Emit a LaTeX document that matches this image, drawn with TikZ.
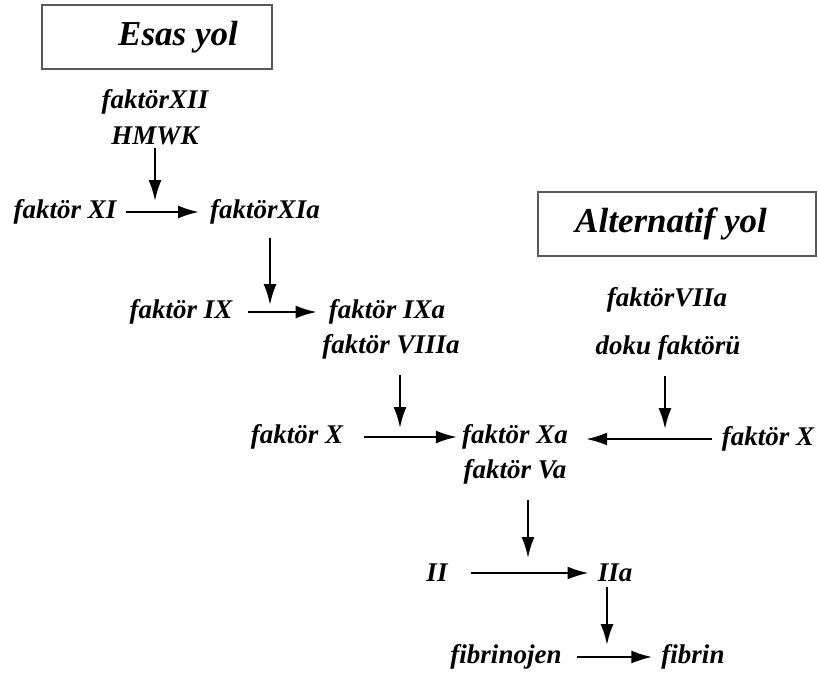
\documentclass[tikz,border=0pt]{standalone}
\usepackage{fontspec}
\setmainfont{Liberation Serif}
\usetikzlibrary{arrows.meta}
\begin{document}
\begin{tikzpicture}[x=1pt,y=-1pt,
  lbl/.style={font=\bfseries\itshape\fontsize{27}{31}\selectfont, inner sep=1pt},
  title/.style={font=\bfseries\itshape\fontsize{35}{40}\selectfont, draw=black!65, line width=1.3pt, inner sep=0pt},
  ar/.style={-{Latex[length=21pt,width=13pt]}, line width=2.2pt}]
\useasboundingbox (0,0) rectangle (819,675);
% titles
\node[title, minimum width=230pt, minimum height=64pt] (esas) at (157,37) {\hspace*{42pt}Esas yol};
\node[title, minimum width=278pt, minimum height=64pt] (alt) at (677,224) {Alternatif yol\hspace*{12pt}};
% labels
\node[lbl] (xii) at (155,102) {faktörXII};
\node[lbl] (hmwk) at (155,136) {HMWK};
\node[lbl] (xi) at (65,212) {faktör XI};
\node[lbl] (xia) at (265,212) {faktörXIa};
\node[lbl] (ix) at (181,312) {faktör IX};
\node[lbl] (ixa) at (387,312) {faktör IXa};
\node[lbl] (viiia) at (391,347) {faktör VIIIa};
\node[lbl] (x1) at (297,437) {faktör X};
\node[lbl] (xa) at (515,437) {faktör Xa};
\node[lbl] (va) at (515,472) {faktör Va};
\node[lbl] (viia) at (667,300) {faktörVIIa};
\node[lbl] (doku) at (668,348) {doku faktörü};
\node[lbl] (x2) at (768,439) {faktör X};
\node[lbl] (ii) at (437,573) {II};
\node[lbl] (iia) at (615,573) {IIa};
\node[lbl] (fbj) at (506,657) {fibrinojen};
\node[lbl] (fb) at (693,657) {fibrin};
% meeting points of the down arrows
\coordinate (m1) at (155,201);
\coordinate (m2) at (270,305);
\coordinate (m3) at (400,428);
\coordinate (m4) at (665,429);
\coordinate (m5) at (528,558);
\coordinate (m6) at (607,645);
% horizontal arrows
\draw[ar, shorten <=8pt, shorten >=10pt] (xi.east) -- (xia.west);
\draw[ar, shorten <=14pt, shorten >=11pt] (ix.east) -- (ix.east -| ixa.west);
\draw[ar, shorten <=20pt, shorten >=4pt] (x1.east) -- (x1.east -| xa.west);
\draw[ar, shorten <=9pt, shorten >=17pt] (x2.west) -- (x2.west -| xa.east);
\draw[ar, shorten <=22pt, shorten >=8pt] (ii.east) -- (iia.west);
\draw[ar, shorten <=14pt, shorten >=8pt] (fbj.east) -- (fb.west);
% vertical arrows
\draw[ar, shorten <=2pt] (hmwk.south -| m1) -- (m1);
\draw[ar, shorten <=12pt] (xia.south -| m2) -- (m2);
\draw[ar, shorten <=14pt] (viiia.south -| m3) -- (m3);
\draw[ar, shorten <=14pt] (doku.south -| m4) -- (m4);
\draw[ar, shorten <=14pt] (va.south -| m5) -- (m5);
\draw[ar, shorten <=4pt] (iia.south -| m6) -- (m6);
\end{tikzpicture}
\end{document}
